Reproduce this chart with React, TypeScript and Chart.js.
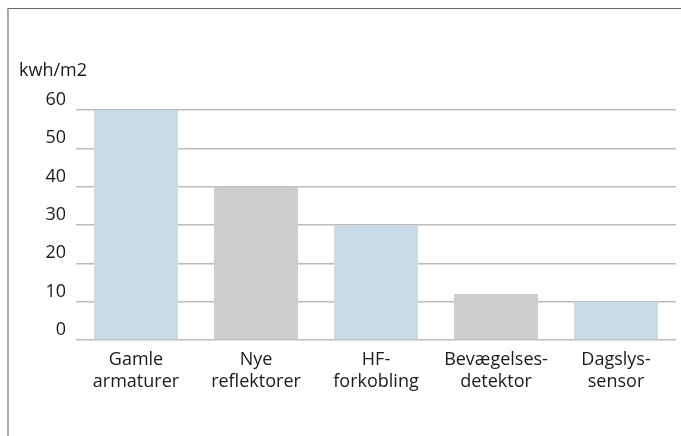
import React, { useEffect, useRef } from "react";
import { Chart, registerables } from "chart.js";

Chart.register(...registerables);

const categories: string[][] = [
  ["Gamle", "armaturer"],
  ["Nye", "reflektorer"],
  ["HF-", "forkobling"],
  ["Bevægelses-", "detektor"],
  ["Dagslys-", "sensor"],
];
const values: number[] = [60, 40, 30, 12, 10];
const barColors: string[] = ["#c9dce6", "#cccdcf", "#c9dce6", "#cccdcf", "#c9dce6"];
const yUnit = "kwh/m2";
const yMin = 0;
const yMax = 60;
const yStep = 10;

const FONT = "'Open Sans', sans-serif";

export default function App() {
  const ref = useRef<HTMLCanvasElement | null>(null);

  useEffect(() => {
    if (!ref.current) return;
    const unitPlugin = {
      id: "unitLabel",
      afterDraw(chart: any) {
        const ctx = chart.ctx;
        ctx.save();
        ctx.font = `18px ${FONT}`;
        ctx.fillStyle = "#1a1a1a";
        ctx.textAlign = "left";
        ctx.textBaseline = "middle";
        ctx.fillText(yUnit, 19, 71);
        ctx.restore();
      },
    };
    const chart = new Chart(ref.current, {
      type: "bar",
      data: {
        labels: categories,
        datasets: [
          {
            data: values,
            backgroundColor: barColors,
            borderWidth: 0,
            barPercentage: 0.7,
            categoryPercentage: 1,
          },
        ],
      },
      options: {
        animation: false,
        responsive: false,
        maintainAspectRatio: false,
        layout: { padding: { top: 110, right: 5, left: 0, bottom: 0 } },
        plugins: {
          legend: { display: false },
          tooltip: { enabled: false },
          title: { display: false },
        },
        scales: {
          x: {
            grid: { display: false, drawTicks: false },
            border: { display: false },
            ticks: {
              color: "#1a1a1a",
              font: { family: FONT, size: 18, lineHeight: 1.2 },
              padding: 9,
              maxRotation: 0,
              autoSkip: false,
            },
            afterFit(scale: any) {
              scale.height = 96;
            },
          },
          y: {
            min: yMin,
            max: yMax,
            grid: { color: "#bcbcbc", lineWidth: 1.5, drawTicks: false },
            border: { display: false },
            ticks: {
              stepSize: yStep,
              color: "#1a1a1a",
              font: { family: FONT, size: 18 },
              padding: 10,
              labelOffset: -10,
            },
            afterFit(scale: any) {
              scale.width = 76;
            },
          },
        },
      },
      plugins: [unitPlugin],
    });
    return () => chart.destroy();
  }, []);

  return (
    <div style={{ position: "absolute", left: 0, top: 0, width: 681, height: 436, background: "#fff", overflow: "hidden" }}>
      <canvas ref={ref} width={681} height={436} style={{ position: "absolute", left: 0, top: 0 }} />
      <div
        style={{
          position: "absolute",
          left: 7,
          top: 8,
          width: 700,
          height: 500,
          borderTop: "1px solid #6a6a6a",
          borderLeft: "2px solid #ababab",
          boxSizing: "border-box",
          pointerEvents: "none",
        }}
      />
    </div>
  );
}
